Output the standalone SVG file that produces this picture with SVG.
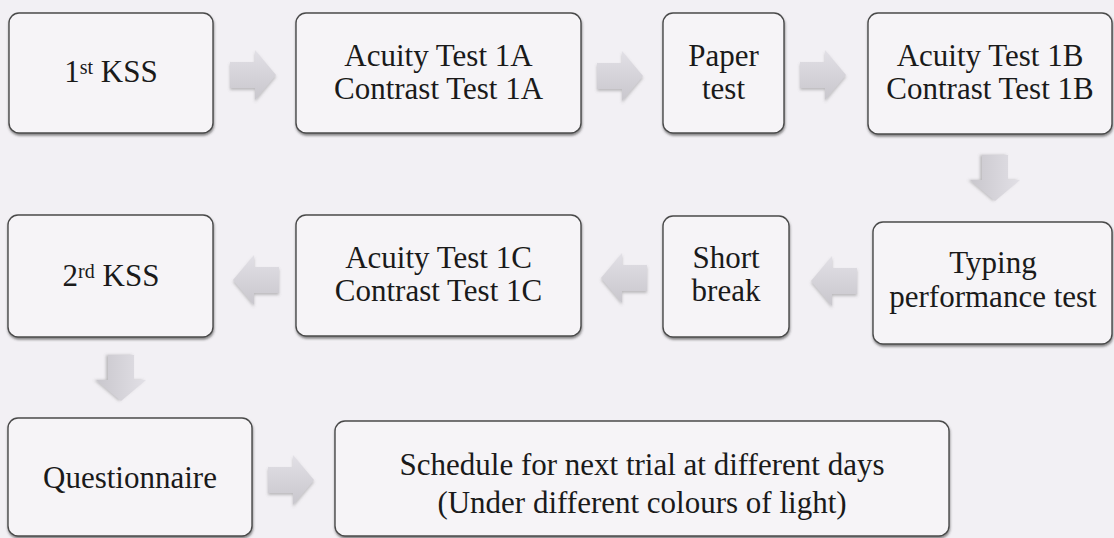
<svg xmlns="http://www.w3.org/2000/svg" xmlns:xlink="http://www.w3.org/1999/xlink" width="1114" height="538" viewBox="0 0 1114 538">
  <defs>
    <style>
      .box { fill: #f6f4f7; stroke: #4a4a4a; stroke-width: 1.4; filter: url(#shadow); }
      .lbl { font-family: "Liberation Serif", "Times New Roman", serif; font-size: 31px; fill: #1a1a1a; text-anchor: middle; }
      .arrow { fill: url(#arrowGrad); filter: url(#ashadow); }
    </style>
    <filter id="shadow" x="-5%" y="-5%" width="112%" height="115%">
      <feDropShadow dx="0.5" dy="2" stdDeviation="1.2" flood-color="#333" flood-opacity="0.55"/>
    </filter>
    <filter id="ashadow" x="-20%" y="-20%" width="140%" height="150%">
      <feDropShadow dx="0" dy="2" stdDeviation="1.5" flood-color="#777" flood-opacity="0.45"/>
    </filter>
    <linearGradient id="arrowGrad" x1="0" y1="0" x2="0" y2="1">
      <stop offset="0" stop-color="#e2e0e6"/>
      <stop offset="1" stop-color="#c9c7cd"/>
    </linearGradient>
    <path id="arrowR" d="M0,-13 L25,-13 L25,-25 L46,0 L25,25 L25,13 L0,13 Z"/>
  </defs>

  <rect x="0" y="0" width="1114" height="538" fill="#f2f0f4"/>

  <g id="connectors">
    <use xlink:href="#arrowR" class="arrow" transform="translate(230,75)"/>
    <use xlink:href="#arrowR" class="arrow" transform="translate(597,76)"/>
    <use xlink:href="#arrowR" class="arrow" transform="translate(800,75)"/>
    <use xlink:href="#arrowR" class="arrow" transform="translate(995,155) rotate(90)"/>
    <use xlink:href="#arrowR" class="arrow" transform="translate(857,281) scale(-1,1)"/>
    <use xlink:href="#arrowR" class="arrow" transform="translate(647,278) scale(-1,1)"/>
    <use xlink:href="#arrowR" class="arrow" transform="translate(279,280) scale(-1,1)"/>
    <use xlink:href="#arrowR" class="arrow" transform="translate(121,355) rotate(90)"/>
    <use xlink:href="#arrowR" class="arrow" transform="translate(268,480)"/>
  </g>

  <g id="kss1">
    <rect class="box" x="9" y="13" width="204" height="120" rx="10"/>
    <text class="lbl" x="111" y="82">1<tspan dy="-8" font-size="20">st</tspan><tspan dy="8"> KSS</tspan></text>
  </g>
  <g id="test1a">
    <rect class="box" x="296" y="13" width="285" height="120" rx="10"/>
    <text class="lbl" x="438.5" y="66">Acuity Test 1A</text>
    <text class="lbl" x="438.5" y="99">Contrast Test 1A</text>
  </g>
  <g id="paper">
    <rect class="box" x="663" y="13" width="121" height="120" rx="10"/>
    <text class="lbl" x="723.5" y="66">Paper</text>
    <text class="lbl" x="723.5" y="99">test</text>
  </g>
  <g id="test1b">
    <rect class="box" x="868" y="13" width="244" height="121" rx="10"/>
    <text class="lbl" x="990" y="66">Acuity Test 1B</text>
    <text class="lbl" x="990" y="99">Contrast Test 1B</text>
  </g>
  <g id="typing">
    <rect class="box" x="873" y="222" width="239" height="122" rx="10"/>
    <text class="lbl" x="993" y="273">Typing</text>
    <text class="lbl" x="993" y="307">performance test</text>
  </g>
  <g id="shortbreak">
    <rect class="box" x="663" y="216" width="126" height="121" rx="10"/>
    <text class="lbl" x="726" y="268">Short</text>
    <text class="lbl" x="726" y="301">break</text>
  </g>
  <g id="test1c">
    <rect class="box" x="296" y="215" width="285" height="121" rx="10"/>
    <text class="lbl" x="438.5" y="268">Acuity Test 1C</text>
    <text class="lbl" x="438.5" y="301">Contrast Test 1C</text>
  </g>
  <g id="kss2">
    <rect class="box" x="8" y="215" width="205" height="122" rx="10"/>
    <text class="lbl" x="111" y="286">2<tspan dy="-8" font-size="20">rd</tspan><tspan dy="8"> KSS</tspan></text>
  </g>
  <g id="questionnaire">
    <rect class="box" x="8" y="418" width="244" height="118" rx="10"/>
    <text class="lbl" x="130" y="488">Questionnaire</text>
  </g>
  <g id="schedule">
    <rect class="box" x="335" y="421" width="614" height="115" rx="10"/>
    <text class="lbl" x="642" y="475">Schedule for next trial at different days</text>
    <text class="lbl" x="642" y="513">(Under different colours of light)</text>
  </g>
</svg>
